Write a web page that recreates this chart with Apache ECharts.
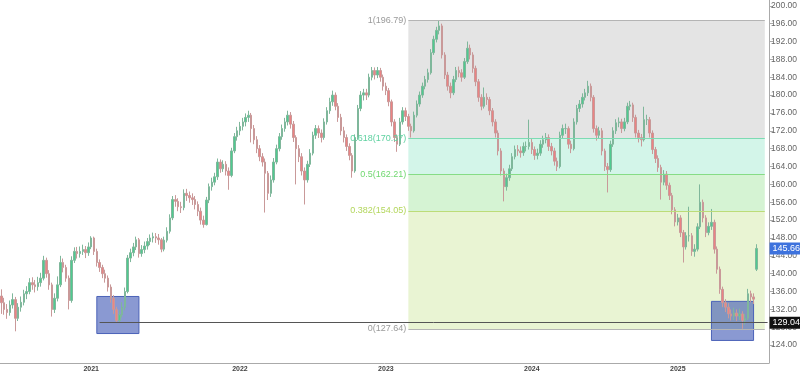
<!DOCTYPE html>
<html><head><meta charset="utf-8">
<script src="https://cdn.jsdelivr.net/npm/echarts@6/dist/echarts.min.js"></script>
<style>html,body{margin:0;padding:0;background:#fff}#c{width:800px;height:375px}</style>
</head><body><div id="c"></div>
<script>
// Weekly candles, week ending Friday; rows are [open, close, low, high]
const firstFriday = '2020-05-22';
const emptyWeeksAtEnd = 4;
const w2020 = [
[135.0,133.5,131.0,136.5],[133.5,132.0,130.8,134.6],[132.0,131.3,129.9,133.2],[131.3,133.0,130.6,134.0],[133.0,134.2,132.2,135.6],[134.2,130.0,127.1,134.8],[130.0,132.5,129.4,133.4],[132.5,133.6,131.5,134.9],[133.6,135.5,132.9,136.4],[135.5,136.0,134.3,137.2],
[136.0,138.0,135.4,139.0],[138.0,137.5,136.4,139.2],[137.5,137.1,135.8,138.6],[137.1,138.0,136.2,139.3],[138.0,139.0,137.1,140.2],[139.0,143.0,138.5,144.0],[143.0,140.0,139.1,143.6],[140.0,137.5,136.4,140.8],[137.5,132.0,130.4,138.0],[132.0,134.5,131.2,135.6],
[134.5,137.5,133.8,139.4],[137.5,142.5,137.0,144.0],[142.5,141.4,140.3,143.4],[141.4,139.0,138.2,142.0],[139.0,134.0,132.0,139.6],[134.0,143.0,133.5,143.9],[143.0,145.0,142.4,145.9],[145.0,144.5,143.4,146.0],[144.5,145.0,143.6,146.1],[145.0,145.4,144.2,146.5],
[145.4,144.7,143.5,146.2],[144.7,146.0,144.0,147.0]
];
const w2021 = [
[146.0,148.0,145.5,148.4],[148.0,145.0,144.2,148.3],[145.0,142.5,141.6,145.6],[142.5,141.4,140.4,143.2],[141.4,140.0,139.0,142.0],[140.0,139.0,138.0,140.9],[139.0,137.0,136.0,139.6],[137.0,134.5,133.5,137.6],[134.5,132.0,131.0,135.2],[132.0,129.5,129.04,132.6],
[129.5,130.8,129.2,131.8],[130.8,132.5,130.2,133.6],[132.5,136.0,131.8,136.9],[136.0,143.5,135.6,144.2],[143.5,144.7,142.6,145.6],[144.7,146.0,143.9,146.9],[146.0,147.6,145.3,148.3],[147.6,144.5,143.6,148.0],[144.5,145.4,143.8,146.4],[145.4,146.2,144.6,147.2],
[146.2,147.2,145.4,148.0],[147.2,148.0,146.4,148.8],[148.0,148.3,147.0,149.2],[148.3,148.0,146.9,149.1],[148.0,147.6,146.5,148.9],[147.6,145.5,144.8,148.0],[145.5,147.5,145.0,148.3],[147.5,149.5,147.0,150.4],[149.5,152.5,149.0,153.3],[152.5,156.6,152.0,157.4],
[156.6,156.2,155.0,157.6],[156.2,155.0,154.0,156.9],[155.0,154.8,153.6,156.1],[154.8,158.0,154.2,158.9],[158.0,157.5,156.3,159.0],[157.5,157.0,155.9,158.4],[157.0,156.6,155.4,158.0],[156.6,155.5,154.4,157.4],[155.5,154.0,152.9,156.2],[154.0,152.0,151.0,154.8],
[152.0,151.0,150.3,153.0],[151.0,156.5,150.8,157.2],[156.5,159.5,155.8,160.2],[159.5,160.5,158.6,161.5],[160.5,161.7,159.8,162.6],[161.7,165.0,161.0,165.8],[165.0,163.5,162.6,165.6],[163.5,164.5,162.8,165.4],[164.5,163.0,162.0,165.2],[163.0,162.0,158.8,163.8],
[162.0,167.5,161.6,168.2],[167.5,170.7,167.0,171.5],[170.7,172.0,169.8,172.9]
];
const w2022 = [
[172.0,173.0,171.0,174.0],[173.0,174.0,172.1,174.9],[174.0,175.0,173.0,175.9],[175.0,175.5,174.0,176.5],[175.5,172.5,169.4,176.0],[172.5,170.0,169.0,173.3],[170.0,168.0,167.0,170.8],[168.0,166.2,165.2,168.8],[166.2,165.0,164.0,167.0],[165.0,162.5,153.7,165.8],
[162.5,158.0,156.5,163.0],[158.0,161.0,157.2,162.0],[161.0,165.0,160.4,165.9],[165.0,168.0,164.5,168.9],[168.0,170.7,167.4,171.5],[170.7,172.5,170.0,173.4],[172.5,174.0,171.8,174.9],[174.0,175.5,173.2,176.5],[175.5,173.5,172.5,176.2],[173.5,170.5,169.5,174.2],
[170.5,168.0,160.0,171.0],[168.0,166.2,165.0,168.8],[166.2,163.0,162.0,167.0],[163.0,161.0,155.5,163.8],[161.0,164.5,160.4,165.3],[164.5,167.0,163.9,167.9],[167.0,171.0,166.5,171.8],[171.0,172.5,170.2,173.3],[172.5,171.5,170.4,173.2],[171.5,170.5,169.4,172.3],
[170.5,174.0,170.0,174.8],[174.0,176.5,173.4,177.3],[176.5,178.5,175.8,179.4],[178.5,180.0,177.6,181.0],[180.0,177.5,176.6,180.6],[177.5,175.0,174.0,178.2],[175.0,172.0,171.0,175.8],[172.0,170.5,169.4,172.9],[170.5,168.5,167.5,171.2],[168.5,166.5,165.4,169.2],
[166.5,163.0,161.5,167.0],[163.0,170.5,162.6,171.2],[170.5,177.0,170.0,177.8],[177.0,180.0,176.4,180.9],[180.0,180.5,178.8,181.4],[180.5,180.0,178.9,181.4],[180.0,184.0,179.5,184.8],[184.0,185.5,183.3,186.3],[185.5,184.5,183.5,186.2],[184.5,185.5,183.8,186.3],
[185.5,184.0,183.0,186.1],[184.0,182.0,181.0,184.6]
];
const w2023 = [
[182.0,181.0,180.0,182.8],[181.0,178.5,177.5,181.6],[178.5,174.0,173.0,179.0],[174.0,170.5,169.5,174.6],[170.5,169.0,167.3,171.2],[169.0,174.0,168.6,174.9],[174.0,176.5,173.4,177.3],[176.5,175.2,174.2,177.2],[175.2,173.0,172.0,175.8],[173.0,172.0,170.5,173.6],
[172.0,175.5,171.6,176.3],[175.5,178.0,175.0,178.8],[178.0,180.0,177.4,180.8],[180.0,182.0,179.4,182.8],[182.0,183.5,181.3,184.3],[183.5,185.0,182.8,185.9],[185.0,189.5,184.6,190.3],[189.5,192.5,189.0,193.3],[192.5,194.5,191.8,195.3],[194.5,195.5,193.6,196.79],
[195.5,189.0,188.2,196.0],[189.0,184.5,183.6,189.6],[184.5,182.0,181.0,185.2],[182.0,180.5,179.3,182.8],[180.5,183.5,180.0,184.3],[183.5,185.5,182.9,186.3],[185.5,185.0,184.0,186.4],[185.0,184.0,183.0,185.8],[184.0,187.5,183.6,188.3],[187.5,190.5,187.0,192.0],
[190.5,189.0,188.0,191.3],[189.0,186.0,185.0,189.6],[186.0,183.0,182.0,186.6],[183.0,179.5,178.5,183.6],[179.5,177.5,176.6,180.2],[177.5,179.5,177.0,181.7],[179.5,179.0,177.8,180.4],[179.0,176.5,175.5,179.6],[176.5,174.0,173.0,177.1],[174.0,171.5,170.5,174.6],
[171.5,167.5,166.5,172.1],[167.5,163.0,162.0,168.1],[163.0,159.5,156.2,163.6],[159.5,161.5,158.6,162.4],[161.5,163.5,160.8,164.4],[163.5,166.2,163.0,167.0],[166.2,167.8,165.6,168.7],[167.8,167.5,166.4,168.8],[167.5,167.1,166.0,168.5],[167.1,168.5,166.4,169.4],
[168.5,168.5,167.4,169.6],[168.5,169.4,167.8,174.5]
];
const w2024 = [
[169.4,167.8,166.8,170.2],[167.8,166.5,165.5,168.5],[166.5,167.0,165.6,168.0],[167.0,169.0,166.4,169.9],[169.0,170.0,168.2,170.9],[170.0,170.5,169.2,171.5],[170.5,168.5,167.5,171.2],[168.5,167.5,166.5,169.3],[167.5,165.2,164.2,168.2],[165.2,164.0,163.0,166.0],
[164.0,171.0,163.6,171.8],[171.0,172.5,170.3,173.4],[172.5,172.5,171.3,173.6],[172.5,169.0,168.0,173.0],[169.0,168.0,167.0,169.8],[168.0,174.0,167.6,174.8],[174.0,177.0,173.4,177.8],[177.0,178.0,176.2,178.9],[178.0,179.5,177.2,180.4],[179.5,180.5,178.8,181.4],
[180.5,182.0,179.8,183.2],[182.0,179.5,178.6,182.6],[179.5,172.5,171.6,180.0],[172.5,171.0,169.8,173.2],[171.0,172.0,170.2,172.9],[172.0,167.5,166.5,172.6],[167.5,164.0,163.0,168.0],[164.0,163.3,158.2,164.8],[163.3,169.0,162.8,169.8],[169.0,172.0,168.4,172.8],
[172.0,173.8,171.3,174.6],[173.8,174.0,172.8,175.0],[174.0,172.5,171.5,174.7],[172.5,174.0,171.9,174.9],[174.0,177.5,173.5,178.3],[177.5,177.8,176.6,178.7],[177.8,175.0,174.0,178.3],[175.0,171.5,170.5,175.6],[171.5,170.5,169.4,172.2],[170.5,170.0,168.5,171.3],
[170.0,174.5,169.6,177.4],[174.5,174.5,173.3,175.6],[174.5,171.5,170.5,175.1],[171.5,167.8,166.8,172.1],[167.8,165.8,164.8,168.4],[165.8,163.8,162.8,166.5],[163.8,160.5,156.6,164.4],[160.5,162.3,159.8,163.2],[162.3,159.8,158.8,163.0],[159.8,157.5,156.5,160.4],
[157.5,154.3,153.3,158.1],[154.3,151.6,150.6,154.9]
];
const w2025 = [
[151.6,152.5,150.8,153.4],[152.5,149.2,148.2,153.1],[149.2,146.0,142.5,149.8],[146.0,148.5,145.4,149.3],[148.5,148.5,147.2,155.0],[148.5,145.0,144.0,149.1],[145.0,145.5,143.8,146.6],[145.5,150.5,145.0,151.3],[150.5,156.0,150.0,160.0],[156.0,152.5,151.5,156.6],
[152.5,149.2,148.2,153.1],[149.2,150.6,148.6,151.5],[150.6,151.5,149.8,154.5],[151.5,145.5,144.5,152.1],[145.5,141.0,140.0,146.1],[141.0,136.5,135.5,141.6],[136.5,133.5,132.5,137.1],[133.5,132.5,131.4,134.3],[132.5,131.0,130.0,133.4],[131.0,130.5,129.5,132.0],
[130.5,131.2,129.6,132.4],[131.2,130.5,129.4,132.0],[130.5,131.0,129.6,132.2],[131.0,129.5,127.64,131.6],[129.5,130.0,128.6,131.0],[130.0,135.5,129.6,136.6],[135.5,134.8,133.6,136.2],[134.8,134.3,133.2,135.6],[141.0,145.66,140.6,146.6]
];
// Fibonacci retracement drawing
const fibHigh = 196.79, fibLow = 127.64;
const fibLevels = [1, 0.618, 0.5, 0.382, 0];
const fibLineColors = ['#b4b4b4', '#7ddbb3', '#86dc86', '#bcdc78', '#b4b4b4'];
const fibTextColors = ['#9a9a9a', '#5ed1a0', '#6fd86f', '#b3d65c', '#9a9a9a'];
const fibFills = ['#e4e4e4', '#d3f5e9', '#d5f3d3', '#e9f4d3'];
const fibStartWeek = 145, fibEndWeek = 272;
// Blue boxes and horizontal line
const boxes = [
  {from: 34, to: 49, top: 134.9, bottom: 126.6},
  {from: 253, to: 268, top: 133.8, bottom: 125.05}
];
const hLinePrice = 129.04, hLineStartWeek = 35, hLineEndWeek = 273;
const lastPrice = 145.66;

const ohlc = [].concat(w2020, w2021, w2022, w2023, w2024, w2025);
const dates = [];
{
  const d0 = new Date(firstFriday + 'T00:00:00Z');
  for (let i = 0; i < ohlc.length + emptyWeeksAtEnd; i++) {
    const d = new Date(d0.getTime() + i * 7 * 86400000);
    dates.push(d.toISOString().slice(0, 10));
  }
}
const yearIdx = new Set(), tickIdx = new Set();
for (let i = 1; i < dates.length; i++) {
  const y0 = dates[i-1].slice(0,4), y1 = dates[i].slice(0,4);
  const m0 = dates[i-1].slice(5,7), m1 = dates[i].slice(5,7);
  if (y0 !== y1) yearIdx.add(i);
  if (m0 !== m1 && ['01','05','09'].includes(m1)) tickIdx.add(i);
}
const fibPrice = l => fibLow + l * (fibHigh - fibLow);
const trunc2 = v => (Math.floor(v * 100 + 1e-6) / 100).toFixed(2);

const fibAreas = [];
for (let i = 0; i < fibLevels.length - 1; i++) {
  fibAreas.push([
    {xAxis: dates[fibStartWeek], yAxis: fibPrice(fibLevels[i]), itemStyle: {color: fibFills[i]}},
    {xAxis: dates[fibEndWeek], yAxis: fibPrice(fibLevels[i+1])}
  ]);
}
const fibLines = fibLevels.map((l, i) => [
  {coord: [dates[fibStartWeek], fibPrice(l)], lineStyle: {color: fibLineColors[i], width: 1, type: 'solid'},
   label: {show: true, position: 'start', distance: 2, formatter: l + '(' + trunc2(fibPrice(l)) + ')', color: fibTextColors[i], fontSize: 9, fontFamily: 'Liberation Sans'}},
  {coord: [dates[fibEndWeek], fibPrice(l)]}
]);

const chart = echarts.init(document.getElementById('c'));
chart.setOption({
  animation: false,
  backgroundColor: '#fff',
  grid: {left: 0, right: 28, top: 0, bottom: 12},
  xAxis: {
    type: 'category', data: dates, boundaryGap: true,
    axisLine: {lineStyle: {color: '#aaa'}},
    axisTick: {alignWithLabel: true, interval: i => tickIdx.has(i), length: 3, lineStyle: {color: '#aaa'}},
    axisLabel: {interval: i => yearIdx.has(i), formatter: v => v.slice(0, 4), fontSize: 7, fontWeight: 'bold', color: '#444', margin: 3, fontFamily: 'Liberation Sans'},
    splitLine: {show: false}
  },
  yAxis: {
    type: 'value', position: 'right', min: 120, max: 201.3, interval: 4,
    axisLine: {show: true, lineStyle: {color: '#aaa'}},
    axisTick: {show: true, length: 4, lineStyle: {color: '#aaa'}},
    axisLabel: {formatter: v => v.toFixed(2), fontSize: 8.5, color: '#666', margin: 2, showMinLabel: false, showMaxLabel: false, fontFamily: 'Liberation Sans'},
    splitLine: {show: false}
  },
  series: [
    {
      name: 'fib', type: 'line', data: [], z: 1, silent: true,
      markArea: {silent: true, data: fibAreas},
      markLine: {silent: true, symbol: ['none', 'none'], data: fibLines}
    },
    {
      name: 'price', type: 'candlestick', data: ohlc, z: 2, barWidth: 2,
      itemStyle: {color: '#4fcb90', color0: '#ec8383', borderColor: '#7fb79b', borderColor0: '#c99999', borderWidth: 1}
    },
    {
      name: 'drawings', type: 'line', data: [], z: 3, silent: true,
      markArea: {silent: true, itemStyle: {color: 'rgba(60,85,180,0.6)', borderColor: '#4b62b8', borderWidth: 1},
        data: boxes.map(b => [{xAxis: dates[b.from], yAxis: b.top}, {xAxis: dates[b.to], yAxis: b.bottom}])},
      markLine: {silent: true, symbol: ['none', 'none'], data: [
        [{coord: [dates[hLineStartWeek], hLinePrice], lineStyle: {color: '#555', width: 1, type: 'solid'},
          label: {show: true, position: 'end', distance: 2, formatter: hLinePrice.toFixed(2), color: '#fff', backgroundColor: '#111', padding: [2, 3, 1, 3], fontSize: 9, fontFamily: 'Liberation Sans'}},
         {coord: [dates[hLineEndWeek], hLinePrice]}],
        [{coord: [dates[ohlc.length - 1], lastPrice], lineStyle: {color: 'rgba(0,0,0,0)', width: 1, type: 'solid'},
          label: {show: true, position: 'end', distance: 2, formatter: lastPrice.toFixed(2), color: '#fff', backgroundColor: '#3d72dd', padding: [2, 3, 1, 3], fontSize: 9, fontFamily: 'Liberation Sans'}},
         {coord: [dates[hLineEndWeek], lastPrice]}]
      ]}
    }
  ]
});
</script></body></html>
